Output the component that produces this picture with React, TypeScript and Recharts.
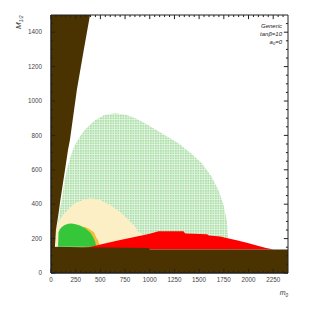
import { ComposedChart, Area, XAxis, YAxis, ReferenceArea, ReferenceLine } from "recharts";

const FONT = "'Liberation Sans', Arial, sans-serif";

const xMajor = [0, 250, 500, 750, 1000, 1250, 1500, 1750, 2000, 2250];
const xMinor = [50, 100, 150, 200, 300, 350, 400, 450, 550, 600, 650, 700, 800, 850, 900, 950, 1050, 1100, 1150, 1200, 1300, 1350, 1400, 1450, 1550, 1600, 1650, 1700, 1800, 1850, 1900, 1950, 2050, 2100, 2150, 2200, 2300, 2350];
const yMajor = [0, 200, 400, 600, 800, 1000, 1200, 1400];
const yMinor = [50, 100, 150, 250, 300, 350, 450, 500, 550, 650, 700, 750, 850, 900, 950, 1050, 1100, 1150, 1250, 1300, 1350, 1450];

// brown wedge at small m0 (filled up to the top)
const wedgeX = [0, 40, 50, 75, 95, 142, 172, 192, 262, 330, 395];
const wedgeLow = [0, 152, 250, 340, 424, 600, 715, 775, 1065, 1290, 1500];

// brown band at low M1/2
const bandX = [0, 350, 990, 1000, 2400];
const bandTop = [152, 150, 146, 137, 136];

// light green dotted region
const dotX = [58, 80, 108, 130, 160, 200, 235, 290, 340, 400, 450, 540, 648, 760, 860, 952, 1100, 1290, 1420, 1527, 1620, 1695, 1745, 1780, 1792, 1795];
const dotTop = [250, 330, 424, 510, 600, 680, 735, 790, 832, 865, 890, 918, 929, 920, 898, 871, 820, 754, 695, 638, 565, 482, 400, 307, 220, 136];

// cream region
const yelX = [38, 50, 70, 100, 142, 190, 243, 320, 400, 500, 615, 700, 783, 850, 885, 935];
const yelLow = [190, 160, 136, 136, 136, 136, 136, 136, 136, 136, 136, 136, 136, 136, 136, 136];
const yelTop = [215, 262, 290, 320, 350, 380, 405, 425, 434, 425, 390, 355, 310, 270, 240, 222];

// orange sliver
const orgX = [330, 380, 435, 460, 478, 495];
const orgTop = [270, 258, 237, 205, 189, 150];

// solid green region
const grnX = [72, 76, 90, 110, 140, 175, 210, 250, 300, 350, 400, 430, 448, 458];
const grnTop = [160, 235, 255, 268, 279, 286, 288, 284, 275, 258, 234, 205, 180, 152];

// red region
const redX = [350, 500, 700, 918, 1000, 1090, 1340, 1360, 1580, 1600, 1712, 1800, 1880, 1983, 2084, 2168, 2255];
const redTop = [146, 165, 192, 218, 228, 243, 243, 230, 226, 218, 212, 200, 190, 176, 160, 147, 136];

const X_MAX = 2400;
const Y_MAX = 1500;

const build = (xs: number[], lows: number[] | number, highs: number[] | number) =>
  xs.map((x, i) => ({
    x,
    r: [Array.isArray(lows) ? lows[i] : lows, Array.isArray(highs) ? highs[i] : highs],
  }));

const wedgeData = build(wedgeX, wedgeLow, Y_MAX);
const bandData = build(bandX, 0, bandTop);
const dotData = build(dotX, 136, dotTop);
const yelData = build(yelX, yelLow, yelTop);
const orgData = build(orgX, 136, orgTop);
const grnData = build(grnX, 152, grnTop);
const redData = build(redX, 136, redTop);

const BROWN = "#4a3300";
const TICK = "#222";
const tickStyle = { fontSize: 6.3, fill: "#444", fontFamily: FONT };
const axisLine = { stroke: "#222", strokeWidth: 1 };

// tick lengths in axis units (about 4px / 2px)
const xTickLen = (major: boolean) => (major ? 24 : 12);
const yTickLen = (major: boolean) => (major ? 42 : 21);

const xTicks = [...xMajor.map((v) => ({ v, major: true })), ...xMinor.map((v) => ({ v, major: false }))];
const yTicks = [...yMajor.map((v) => ({ v, major: true })), ...yMinor.map((v) => ({ v, major: false }))];

const App: React.FC = () => {
  return (
    <div style={{ position: "absolute", left: 0, top: 0 }}>
      <ComposedChart width={309} height={309} margin={{ top: 15, right: 21, bottom: 6, left: 0 }}>
        <defs>
          <pattern id="dots" width="2.5" height="2.5" patternUnits="userSpaceOnUse">
            <rect width="2.5" height="2.5" fill="#f0faee" />
            <rect width="1.9" height="1.9" fill="#ade0aa" />
          </pattern>
        </defs>

        <XAxis dataKey="x" type="number" domain={[0, X_MAX]} allowDataOverflow ticks={xMajor} interval={0}
          height={30} stroke="#222" tickLine={false} tickSize={0} tickMargin={5} axisLine={axisLine} tick={tickStyle} />
        <YAxis type="number" domain={[0, Y_MAX]} allowDataOverflow ticks={yMajor} interval={0}
          width={51} stroke="#222" tickLine={false} tickSize={0} tickMargin={9} axisLine={axisLine} tick={tickStyle} />

        <Area data={dotData} dataKey="r" type="linear" stroke="none" fill="url(#dots)" fillOpacity={1} isAnimationActive={false} />
        <Area data={yelData} dataKey="r" type="linear" stroke="none" fill="#fcefc6" fillOpacity={1} isAnimationActive={false} />
        <Area data={orgData} dataKey="r" type="linear" stroke="none" fill="#f4bd3c" fillOpacity={1} isAnimationActive={false} />
        <Area data={grnData} dataKey="r" type="linear" stroke="none" fill="#35c63a" fillOpacity={1} isAnimationActive={false} />
        <Area data={redData} dataKey="r" type="linear" stroke="none" fill="#ff0000" fillOpacity={1} isAnimationActive={false} />
        <Area data={bandData} dataKey="r" type="linear" stroke="none" fill={BROWN} fillOpacity={1} isAnimationActive={false} />
        <Area data={wedgeData} dataKey="r" type="linear" stroke="none" fill={BROWN} fillOpacity={1} isAnimationActive={false} />

        {xTicks.map((t) => (
          <ReferenceLine key={`xb${t.v}`} segment={[{ x: t.v, y: 0 }, { x: t.v, y: xTickLen(t.major) }]} stroke={TICK} ifOverflow="visible" />
        ))}
        {xTicks.map((t) => (
          <ReferenceLine key={`xt${t.v}`} segment={[{ x: t.v, y: Y_MAX }, { x: t.v, y: Y_MAX - xTickLen(t.major) }]} stroke={TICK} ifOverflow="visible" />
        ))}
        {yTicks.map((t) => (
          <ReferenceLine key={`yl${t.v}`} segment={[{ x: 0, y: t.v }, { x: yTickLen(t.major), y: t.v }]} stroke={TICK} ifOverflow="visible" />
        ))}
        {yTicks.map((t) => (
          <ReferenceLine key={`yr${t.v}`} segment={[{ x: X_MAX, y: t.v }, { x: X_MAX - yTickLen(t.major), y: t.v }]} stroke={TICK} ifOverflow="visible" />
        ))}

        <ReferenceArea x1={0} x2={X_MAX} y1={0} y2={Y_MAX} fill="none" stroke="#222" strokeWidth={1} ifOverflow="visible" />

        <text transform="translate(21,29) rotate(-90)" fontFamily={FONT} fontStyle="italic" fill="#333">
          <tspan fontSize={8}>M</tspan>
          <tspan fontSize={5} dy={2}>1/2</tspan>
        </text>
        <text x={288} y={295} textAnchor="end" fontFamily={FONT} fontStyle="italic" fill="#333">
          <tspan fontSize={7}>m</tspan>
          <tspan fontSize={4.5} dy={1.5}>0</tspan>
        </text>
        <text x={282} y={28} textAnchor="end" fontFamily={FONT} fontStyle="italic" fontSize={6} fill="#222">Generic</text>
        <text x={282} y={36} textAnchor="end" fontFamily={FONT} fontStyle="italic" fontSize={6} fill="#222">tanβ=10</text>
        <text x={282} y={44} textAnchor="end" fontFamily={FONT} fontStyle="italic" fill="#222">
          <tspan fontSize={6}>a</tspan>
          <tspan fontSize={4} dy={1}>0</tspan>
          <tspan fontSize={6} dy={-1}>=0</tspan>
        </text>
      </ComposedChart>
    </div>
  );
};

export default App;
